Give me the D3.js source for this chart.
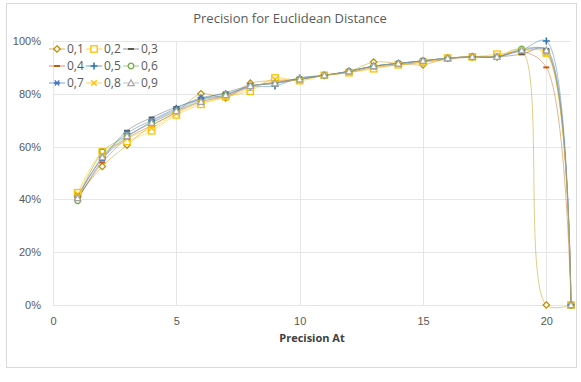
<!DOCTYPE html>
<html>
<head>
<meta charset="utf-8">
<script src="https://cdn.jsdelivr.net/npm/d3@7"></script>
<style>
  html, body { margin: 0; padding: 0; background: #fff; }
  svg { display: block; font-family: "Open Sans", "Liberation Sans", sans-serif; }
</style>
</head>
<body>
<svg id="chart" width="581" height="382"></svg>
<script>
// Precision (%) at each cut-off, one series per threshold
const precisionAt = d3.range(1, 22);
const seriesNames = ["0,1", "0,2", "0,3", "0,4", "0,5", "0,6", "0,7", "0,8", "0,9"];
const s01 = [41, 52.5, 60.6, 68, 73, 80, 78.5, 84, 85, 85.5, 87, 88.5, 92, 91.5, 91, 93.5, 94, 94, 96.5, 0, 0];
const s02 = [42.5, 58, 62, 66, 72, 76, 79, 81, 86, 85, 87, 88, 89.5, 91, 92, 93.5, 94, 95, 96, 95.5, 0];
const s03 = [40, 55, 66, 71, 75, 78, 80.5, 83, 84, 86, 87, 88.5, 90.5, 91.5, 92.5, 93.5, 94, 94, 95, 97, 0];
const s04 = [40, 54, 63, 68, 73, 77, 79, 82.5, 84.5, 85.5, 87, 88, 90, 91, 92, 93, 94, 94, 96, 90, 0];
const s05 = [41, 56, 65, 70, 74.5, 78.5, 80, 82.5, 83, 86, 87, 88.5, 90.5, 91.5, 92.5, 93.5, 94, 94, 96.5, 100, 0];
const s06 = [39.5, 58, 64, 69, 73.5, 77.5, 79.5, 83, 84, 85.5, 87, 88.5, 90.5, 91.5, 92.5, 93.5, 94, 94, 97, 96, 0];
const s07 = [41.5, 55.5, 63.5, 69.5, 74, 78, 79.5, 83, 84, 85.5, 87, 88.5, 90.5, 91.5, 92.5, 93.5, 94, 94, 96.5, 96, 0];
const s08 = [42, 57, 63, 67, 72.5, 76.5, 78.5, 82, 85.5, 85, 87, 88, 90, 91, 92, 93.5, 94, 94.5, 96.5, 95, 0];
const s09 = [40.5, 56, 64, 69, 73.5, 77, 79.5, 83, 84, 85.5, 87, 88.5, 90.5, 91.5, 92.5, 93.5, 94, 94, 96.5, 96.5, 0];
const seriesValues = [s01, s02, s03, s04, s05, s06, s07, s08, s09];
const xTicks = [0, 5, 10, 15, 20];
const yTicks = [0, 20, 40, 60, 80, 100];

const colors = ["#BF9000", "#FFC000", "#595959", "#C55A11", "#2E75B6", "#70AD47", "#4472C4", "#FFC000", "#A5A5A5"];
const markers = ["diamond", "square", "dash", "dash", "plus", "circle", "star", "cross", "triangle"];

const svg = d3.select("#chart");
const W = 581, H = 382;
const plot = { left: 53, right: 571, top: 41, bottom: 305 };

// chart frame
svg.append("rect").attr("x", 6.5).attr("y", 3.5).attr("width", 570).attr("height", 364)
  .attr("fill", "#fff").attr("stroke", "#D9D9D9").attr("stroke-width", 1);

const x = d3.scaleLinear().domain([0, 21]).range([plot.left, plot.right]);
const y = d3.scaleLinear().domain([0, 100]).range([plot.bottom, plot.top]);

// gridlines
const grid = svg.append("g").attr("stroke", "#E6E6E6").attr("stroke-width", 1);
grid.selectAll("line.h").data(yTicks).join("line")
  .attr("x1", plot.left).attr("x2", plot.right)
  .attr("y1", d => Math.round(y(d)) + 0.5).attr("y2", d => Math.round(y(d)) + 0.5);
grid.selectAll("line.v").data(xTicks).join("line")
  .attr("y1", plot.top).attr("y2", plot.bottom)
  .attr("x1", d => Math.round(x(d)) + 0.5).attr("x2", d => Math.round(x(d)) + 0.5);

// axes
const yAxis = svg.append("g").attr("transform", `translate(${plot.left - 12},0)`)
  .call(d3.axisLeft(y).tickValues(yTicks).tickFormat(d => d + "%").tickSize(0).tickPadding(0));
const xAxis = svg.append("g").attr("transform", `translate(0,${plot.bottom + 10})`)
  .call(d3.axisBottom(x).tickValues(xTicks).tickSize(0).tickPadding(0));
[yAxis, xAxis].forEach(a => {
  a.select(".domain").remove();
  a.selectAll("text").attr("fill", "#595959").style("font-size", "11px");
});
xAxis.selectAll("text").attr("dy", "0.9em");

// titles
svg.append("text").attr("x", 290).attr("y", 23).attr("text-anchor", "middle")
  .attr("fill", "#595959").style("font-size", "13px").text("Precision for Euclidean Distance");
svg.append("text").attr("x", (plot.left + plot.right) / 2).attr("y", 342).attr("text-anchor", "middle")
  .attr("fill", "#404040").style("font-size", "11px").style("font-weight", "bold").text("Precision At");

// marker drawing
function drawMarker(g, type, color) {
  switch (type) {
    case "diamond":
      g.append("path").attr("d", "M0,-3.2L3.2,0L0,3.2L-3.2,0Z").attr("fill", "#fff").attr("stroke", color).attr("stroke-width", 1.3); break;
    case "square":
      g.append("rect").attr("x", -3.2).attr("y", -3.2).attr("width", 6.4).attr("height", 6.4).attr("fill", "#fff").attr("stroke", color).attr("stroke-width", 1.3); break;
    case "dash":
      g.append("rect").attr("x", -3).attr("y", -1).attr("width", 6).attr("height", 2).attr("fill", color); break;
    case "plus":
      g.append("path").attr("d", "M-3.5,0H3.5M0,-3.5V3.5").attr("stroke", color).attr("stroke-width", 1.6); break;
    case "circle":
      g.append("circle").attr("r", 2.8).attr("fill", "#fff").attr("stroke", color).attr("stroke-width", 1.3); break;
    case "star":
      g.append("path").attr("d", "M-3,0H3M-2.2,-2.6L2.2,2.6M-2.2,2.6L2.2,-2.6").attr("stroke", color).attr("stroke-width", 1.3); break;
    case "cross":
      g.append("path").attr("d", "M-2.8,-2.8L2.8,2.8M-2.8,2.8L2.8,-2.8").attr("stroke", color).attr("stroke-width", 1.4); break;
    case "triangle":
      g.append("path").attr("d", "M0,-3.3L3.2,2.6H-3.2Z").attr("fill", "#fff").attr("stroke", color).attr("stroke-width", 1.2); break;
  }
}

// series lines
const line = d3.line().x((d, i) => x(precisionAt[i])).y(d => y(d)).curve(d3.curveCatmullRom.alpha(0.5));
const linesG = svg.append("g").attr("fill", "none");
seriesValues.forEach((vals, k) => {
  linesG.append("path").datum(vals).attr("d", line)
    .attr("stroke", colors[k]).attr("stroke-width", 1).attr("stroke-opacity", 0.45);
});

// series markers
seriesValues.forEach((vals, k) => {
  const mg = svg.append("g");
  vals.forEach((v, i) => {
    const g = mg.append("g").attr("transform", `translate(${x(precisionAt[i])},${y(v)})`);
    drawMarker(g, markers[k], colors[k]);
  });
});

// legend: three columns, three rows
const legend = svg.append("g");
seriesNames.forEach((name, k) => {
  const col = k % 3, row = Math.floor(k / 3);
  const lx = 49 + col * 37, ly = 49 + row * 17;
  const g = legend.append("g").attr("transform", `translate(${lx},${ly})`);
  g.append("line").attr("x1", 0).attr("x2", 16).attr("y1", 0).attr("y2", 0)
    .attr("stroke", colors[k]).attr("stroke-width", 1.5).attr("stroke-opacity", 0.45);
  const m = g.append("g").attr("transform", "translate(8,0)");
  drawMarker(m, markers[k], colors[k]);
  g.append("text").attr("x", 18).attr("y", 0).attr("dy", "0.36em")
    .attr("fill", "#595959").style("font-size", "12px").text(name);
});
</script>
</body>
</html>
